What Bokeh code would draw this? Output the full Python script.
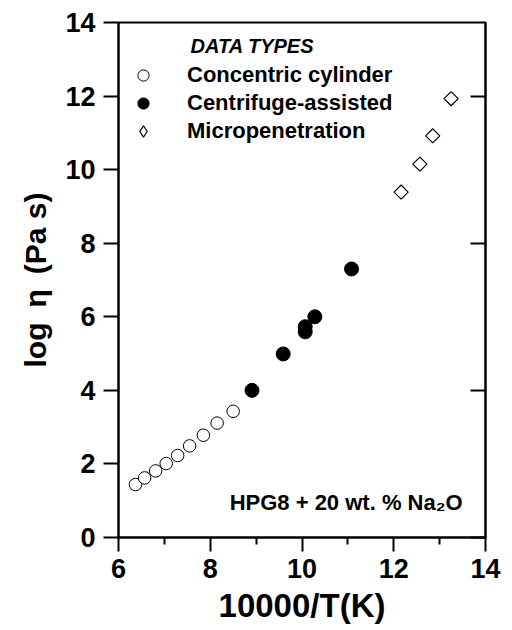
import numpy as np
from bokeh.plotting import figure
from bokeh.models import (Range1d, FixedTicker, LinearAxis, Label, Legend, LegendItem,
                          CustomJSTickFormatter, ColumnDataSource)
from bokeh.embed import file_html
from bokeh.resources import INLINE

# ---- data ----
cc_x = [6.37, 6.57, 6.81, 7.04, 7.29, 7.55, 7.85, 8.15, 8.50]
cc_y = [1.44, 1.62, 1.81, 2.01, 2.23, 2.49, 2.78, 3.11, 3.43]
cf_x = [8.91, 9.59, 10.07, 10.07, 10.28, 11.08]
cf_y = [4.00, 4.99, 5.59, 5.73, 6.00, 7.30]
mp_x = [12.16, 12.57, 12.85, 13.25]
mp_y = [9.39, 10.15, 10.92, 11.93]

x_ticks = [6, 8, 10, 12, 14]
x_minor = [7, 9, 11, 13]
y_ticks = [0, 2, 4, 6, 8, 10, 12, 14]
y_right_ticks = [0, 4, 8, 12]

legend_labels = ["Concentric cylinder", "Centrifuge-assisted", "Micropenetration"]
legend_title = "DATA TYPES"
annotation = "HPG8 + 20 wt. % Na\u2082O"
x_label = "10000/T(K)"
y_label = "log\u2002\u03b7\u2002(Pa\u00a0s)"

FONT = "Liberation Sans"

p = figure(width=512, height=630, output_backend="svg", toolbar_location=None,
           x_range=Range1d(6, 14), y_range=Range1d(0, 14),
           min_border_left=118, min_border_right=27, min_border_top=22,
           min_border_bottom=93, x_axis_location=None, y_axis_location=None)
p.grid.visible = False
p.outline_line_color = "black"
p.outline_line_width = 2
p.background_fill_color = "white"
p.border_fill_color = "white"

# bottom axis
xa = LinearAxis(ticker=FixedTicker(ticks=x_ticks, minor_ticks=x_minor))
xa.axis_label = x_label
xa.axis_label_text_font = FONT
xa.axis_label_text_font_style = "bold"
xa.axis_label_text_font_size = "33px"
xa.axis_label_text_color = "black"
xa.axis_label_standoff = 6
xa.major_label_text_font = FONT
xa.major_label_text_font_style = "bold"
xa.major_label_text_font_size = "27px"
xa.major_label_text_color = "black"
xa.major_label_standoff = 7
xa.major_tick_out = 14
xa.major_tick_in = 0
xa.minor_tick_out = 7
xa.minor_tick_in = 0
xa.major_tick_line_width = 2
xa.minor_tick_line_width = 2
xa.axis_line_width = 2
p.add_layout(xa, "below")

# left axis
ya = LinearAxis(ticker=FixedTicker(ticks=y_ticks, minor_ticks=[]))
ya.axis_label = y_label
ya.axis_label_text_font = FONT
ya.axis_label_text_font_style = "bold"
ya.axis_label_text_font_size = "30px"
ya.axis_label_text_color = "black"
ya.axis_label_standoff = 10
ya.major_label_text_font = FONT
ya.major_label_text_font_style = "bold"
ya.major_label_text_font_size = "27px"
ya.major_label_text_color = "black"
ya.major_label_standoff = 8
ya.major_tick_out = 15
ya.major_tick_in = 0
ya.minor_tick_out = 0
ya.minor_tick_in = 0
ya.major_tick_line_width = 2
ya.axis_line_width = 2
p.add_layout(ya, "left")

# right axis (inward ticks, no labels)
ra = LinearAxis(ticker=FixedTicker(ticks=y_right_ticks, minor_ticks=[]),
                formatter=CustomJSTickFormatter(code="return ''"))
ra.major_label_standoff = 0
ra.major_tick_in = 15
ra.major_tick_out = 0
ra.minor_tick_in = 0
ra.minor_tick_out = 0
ra.major_tick_line_width = 2
ra.axis_line_width = 2
p.add_layout(ra, "right")

# data
r_cc = p.scatter(cc_x, cc_y, marker="circle", size=12.5, fill_color="white",
                 line_color="black", line_width=1)
r_cf = p.scatter(cf_x, cf_y, marker="circle", size=14, fill_color="black",
                 line_color="black", line_width=1)
mp_src = ColumnDataSource(data=dict(x=mp_x, y=mp_y))
# diamond-shaped legend key for the micropenetration series; it lies fully
# beneath the rotated-square markers drawn on top of it, so only the legend shows it
r_mp_key = p.scatter(x="x", y="y", source=mp_src, marker="diamond", size=11,
                     fill_color="white", line_color="black", line_width=1.2)
r_mp = p.scatter(x="x", y="y", source=mp_src, marker="square", angle=np.pi / 4, size=10,
                 fill_color="white", line_color="black", line_width=1.2)

legend = Legend(items=[LegendItem(label=legend_labels[0], renderers=[r_cc]),
                       LegendItem(label=legend_labels[1], renderers=[r_cf]),
                       LegendItem(label=legend_labels[2], renderers=[r_mp_key])],
                location=(9, 392), padding=0, margin=0, spacing=0,
                glyph_width=32, glyph_height=28, label_height=28,
                label_standoff=28, border_line_color=None,
                background_fill_alpha=0,
                label_text_font=FONT, label_text_font_style="bold",
                label_text_font_size="22px", label_text_color="black")
p.add_layout(legend, "center")

p.add_layout(Label(x=7.57, y=13.35, text=legend_title, text_font=FONT,
                   text_font_style="bold italic", text_font_size="20px",
                   text_baseline="middle", text_align="left", text_color="black"))

p.add_layout(Label(x=13.50, y=0.95, text=annotation, text_font=FONT,
                   text_font_style="bold", text_font_size="22px",
                   text_baseline="middle", text_align="right", text_color="black"))

open("out.html", "w").write(file_html(p, INLINE))
